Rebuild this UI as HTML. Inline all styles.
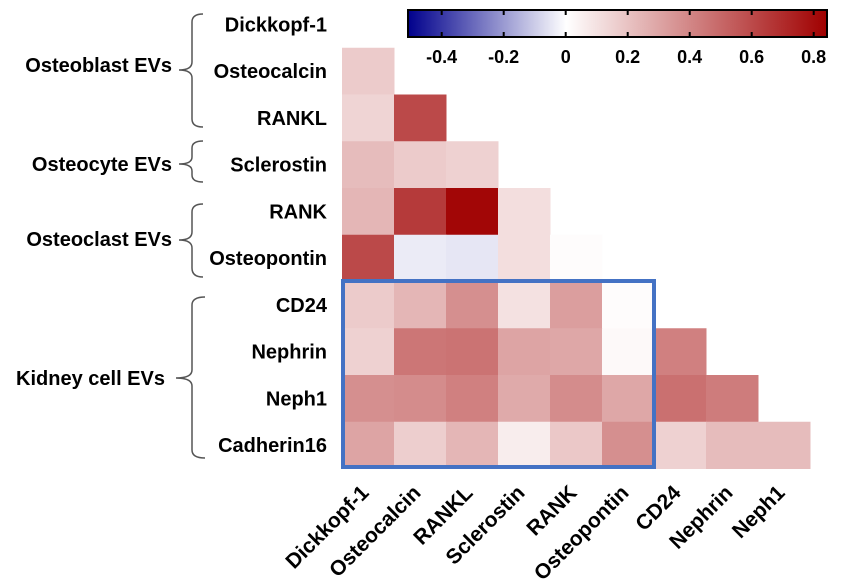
<!DOCTYPE html>
<html><head><meta charset="utf-8">
<style>
html,body{margin:0;padding:0;background:#fff;}
svg{display:block;font-family:"Liberation Sans",Arial,sans-serif;font-weight:bold;}
</style></head>
<body>
<svg id="chart" width="851" height="585" viewBox="0 0 851 585" xmlns="http://www.w3.org/2000/svg">
<defs>
<linearGradient id="cbg" x1="0" x2="1" y1="0" y2="0">
<stop offset="0" stop-color="#00008c"/>
<stop offset="0.378" stop-color="#ffffff"/>
<stop offset="1" stop-color="#a00000"/>
</linearGradient>
</defs>
<g id="cells"></g>
<rect x="343" y="281" width="311" height="186" fill="none" stroke="#4472c4" stroke-width="4"/>
<g>
<rect x="408" y="10" width="419" height="27" fill="url(#cbg)" stroke="#000" stroke-width="2"/>
<g id="cbticks"></g>
</g>
<g id="rowlabels" font-size="20" text-anchor="end"></g>
<g id="collabels" font-size="21" text-anchor="end"></g>
<g font-size="20" text-anchor="end" fill="#000">
<text x="172" y="72">Osteoblast EVs</text>
<text x="172" y="171">Osteocyte EVs</text>
<text x="172" y="246">Osteoclast EVs</text>
<text x="165" y="385">Kidney cell EVs</text>
</g>
<g fill="none" stroke="#555" stroke-width="1.5">
<path d="M203,14 Q192,14 192,22 L192,62 Q192,70 179,70 Q192,70 192,78 L192,119 Q192,127 203,127"/>
<path d="M203,141 Q192,141 192,148 L192,157 Q192,164 179,164 Q192,164 192,171 L192,175 Q192,182 203,182"/>
<path d="M203,204 Q192,204 192,212 L192,232 Q192,240 179,240 Q192,240 192,248 L192,268 Q192,277 203,277"/>
<path d="M205,297 Q192,297 192,305 L192,370 Q192,378 176,378 Q192,378 192,386 L192,450 Q192,458 205,458"/>
</g>
</svg>
<script>
const rowNames = ["Dickkopf-1","Osteocalcin","RANKL","Sclerostin","RANK","Osteopontin","CD24","Nephrin","Neph1","Cadherin16"];
const colNames = ["Dickkopf-1","Osteocalcin","RANKL","Sclerostin","RANK","Osteopontin","CD24","Nephrin","Neph1"];
const row1 = [0.17];
const row2 = [0.14, 0.6];
const row3 = [0.22, 0.17, 0.15];
const row4 = [0.24, 0.65, 0.82, 0.11];
const row5 = [0.6, -0.04, -0.05, 0.11, 0.01];
const row6 = [0.17, 0.24, 0.37, 0.1, 0.32, 0.01];
const row7 = [0.15, 0.45, 0.46, 0.3, 0.29, 0.02, 0.42];
const row8 = [0.37, 0.38, 0.42, 0.28, 0.38, 0.29, 0.47, 0.43];
const row9 = [0.3, 0.16, 0.24, 0.06, 0.18, 0.37, 0.15, 0.22, 0.22];
const tickValues = [-0.4, -0.2, 0, 0.2, 0.4, 0.6, 0.8];
const tickLabels = ["-0.4","-0.2","0","0.2","0.4","0.6","0.8"];

const NS = "http://www.w3.org/2000/svg";
const rows = [[], row1, row2, row3, row4, row5, row6, row7, row8, row9];
const x0 = 342, cw = 52, y0 = 1, rh = 46.75;
function xPos(c){ return x0 + c*cw; }
function yPos(r){ return y0 + r*rh; }
function cbX(v){ return 565.7 + v*310; }
function color(v){
  const vmax = 0.84, vmin = -0.51;
  if (v >= 0){
    const t = Math.min(v/vmax,1);
    return `rgb(${Math.round(255-95*t)},${Math.round(255*(1-t))},${Math.round(255*(1-t))})`;
  } else {
    const t = Math.min(v/vmin,1);
    return `rgb(${Math.round(255*(1-t))},${Math.round(255*(1-t))},${Math.round(255-115*t)})`;
  }
}
const cells = document.getElementById('cells');
rows.forEach((vals, r) => {
  vals.forEach((v, c) => {
    const rect = document.createElementNS(NS,'rect');
    rect.setAttribute('x', xPos(c));
    rect.setAttribute('y', yPos(r));
    rect.setAttribute('width', cw + 0.5);
    rect.setAttribute('height', rh + 0.5);
    rect.setAttribute('fill', color(v));
    
    
    cells.appendChild(rect);
  });
});
const rl = document.getElementById('rowlabels');
rowNames.forEach((n, r) => {
  const t = document.createElementNS(NS,'text');
  t.setAttribute('x', 327);
  t.setAttribute('y', yPos(r) + rh/2 + 7);
  t.textContent = n;
  
  
  rl.appendChild(t);
});
const cl = document.getElementById('collabels');
colNames.forEach((n, c) => {
  const t = document.createElementNS(NS,'text');
  const cx = xPos(c) + cw/2 + 2, cy = 494;
  t.setAttribute('x', cx);
  t.setAttribute('y', cy);
  t.setAttribute('transform', `rotate(-45 ${cx} ${cy})`);
  t.textContent = n;
  
  
  cl.appendChild(t);
});
const cb = document.getElementById('cbticks');
tickValues.forEach((v, i) => {
  const x = cbX(v);
  const l1 = document.createElementNS(NS,'line');
  l1.setAttribute('x1', x); l1.setAttribute('x2', x);
  l1.setAttribute('y1', 11); l1.setAttribute('y2', 15);
  l1.setAttribute('stroke', '#000'); l1.setAttribute('stroke-width', 2);
  
  
  cb.appendChild(l1);
  const l2 = document.createElementNS(NS,'line');
  l2.setAttribute('x1', x); l2.setAttribute('x2', x);
  l2.setAttribute('y1', 32); l2.setAttribute('y2', 36);
  l2.setAttribute('stroke', '#000'); l2.setAttribute('stroke-width', 2);
  
  
  cb.appendChild(l2);
  const t = document.createElementNS(NS,'text');
  t.setAttribute('x', x);
  t.setAttribute('y', 63);
  t.setAttribute('text-anchor', 'middle');
  t.setAttribute('font-size', '18');
  t.textContent = tickLabels[i];
  
  
  cb.appendChild(t);
});
</script>
</body></html>
